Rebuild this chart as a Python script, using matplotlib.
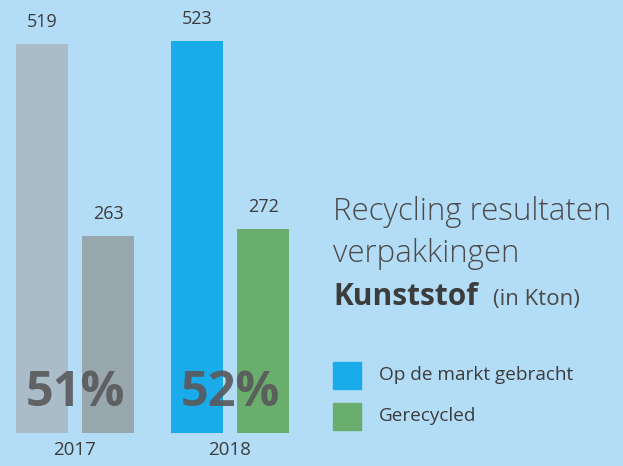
import matplotlib.pyplot as plt
import numpy as np

# Data (in Kton)
years = ["2017", "2018"]
market = [519, 523]
recycled = [263, 272]
percent = ["51%", "52%"]
legend_labels = ["Op de markt gebracht", "Gerecycled"]

bg = "#b3ddf6"
market_colors = ["#a9bcc8", "#1aabea"]
recycled_colors = ["#98a6ae", "#69ae6c"]
text_dark = "#3c3c3c"

plt.rcParams["font.family"] = ["Open Sans", "DejaVu Sans"]

fig = plt.figure(figsize=(6.23, 4.66), dpi=100, facecolor=bg)
ax = fig.add_axes([0, 33 / 466, 310 / 623, 433 / 466])
ax.set_facecolor(bg)

x = np.arange(len(years))
w = 0.335
off = 0.214
b1 = ax.bar(x - off, market, w, color=market_colors)
b2 = ax.bar(x + off, recycled, w, color=recycled_colors)

for bars in (b1, b2):
    for bar in bars:
        h = bar.get_height()
        ax.text(bar.get_x() + bar.get_width() / 2, h + 17, f"{h:.0f}",
                ha="center", va="bottom", fontsize=13, color=text_dark)

# big recycling percentage over the bars
for xi, p in zip(x, percent):
    ax.text(xi, 52, p, ha="center", va="center", fontsize=35,
            fontweight="bold", color="#5a5a5c", alpha=0.92)

ax.set_xlim(-0.484, 1.516)
ax.set_ylim(0, 577)
ax.set_xticks(x, years)
ax.tick_params(axis="x", length=0, pad=6, labelsize=13.5, labelcolor=text_dark)
ax.set_yticks([])
for s in ax.spines.values():
    s.set_visible(False)

# title block
fig.text(333 / 623, 1 - 220 / 466, "Recycling resultaten", fontsize=22.5,
         fontweight="light", color="#4a4a4a", va="baseline")
fig.text(333 / 623, 1 - 262 / 466, "verpakkingen", fontsize=22.5,
         fontweight="light", color="#4a4a4a", va="baseline")
fig.text(333 / 623, 1 - 305 / 466, "Kunststof", fontsize=21.5,
         fontweight="bold", color=text_dark, va="baseline")
fig.text(493 / 623, 1 - 305 / 466, "(in Kton)", fontsize=16,
         color="#4a4a4a", va="baseline")

# legend
for i, (lab, col) in enumerate(zip(legend_labels, [market_colors[1], recycled_colors[1]])):
    y0 = 362 + i * 41
    fig.patches.append(plt.Rectangle((333 / 623, 1 - (y0 + 27) / 466), 28 / 623, 27 / 466,
                                     transform=fig.transFigure, color=col))
    fig.text(379 / 623, 1 - (y0 + 13) / 466, lab, fontsize=13.7, color=text_dark, va="center")

fig.savefig("out.png", dpi=100, facecolor=bg)
